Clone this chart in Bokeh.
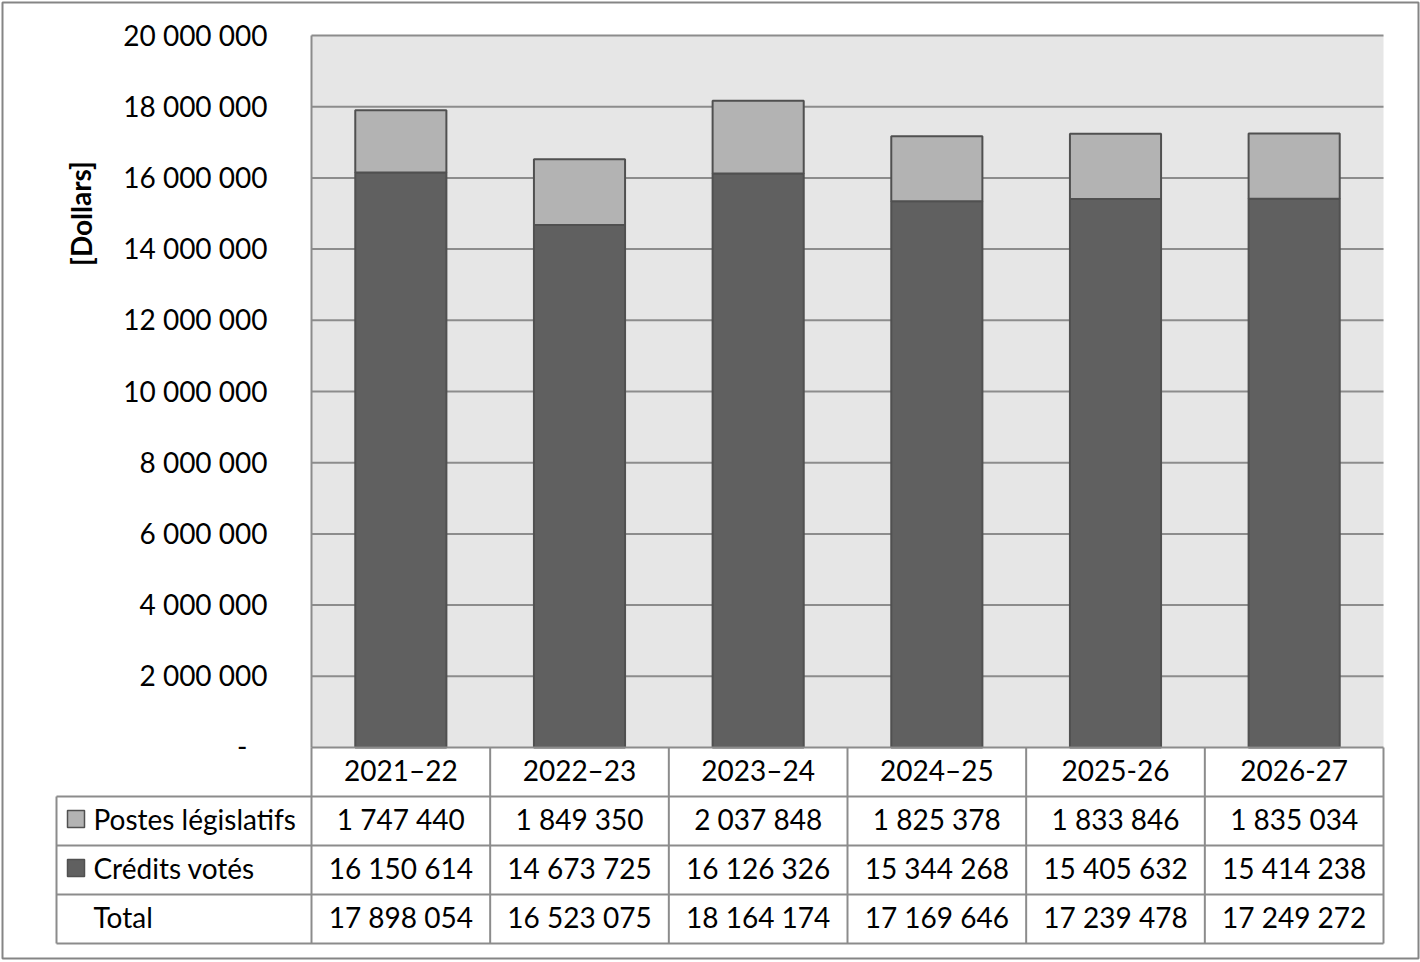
from bokeh.plotting import figure
from bokeh.models import ColumnDataSource, Range1d
from bokeh.core.properties import value
from bokeh.embed import file_html
from bokeh.resources import INLINE

# ---------------- data ----------------
years = ["2021–22", "2022–23", "2023–24", "2024–25", "2025-26", "2026-27"]
postes = [1747440, 1849350, 2037848, 1825378, 1833846, 1835034]
credits = [16150614, 14673725, 16126326, 15344268, 15405632, 15414238]
totals = [17898054, 16523075, 18164174, 17169646, 17239478, 17249272]
y_ticks = [0, 2000000, 4000000, 6000000, 8000000, 10000000,
           12000000, 14000000, 16000000, 18000000, 20000000]
series_names = ["Postes législatifs", "Crédits votés", "Total"]
y_title = "[Dollars]"

# ---------------- layout constants (pixels) ----------------
W, H = 1420, 962
PL, PR = 311, 1383          # plot area left/right
PT, PB = 35, 747            # plot area top/bottom
ROW_H = 49
TABLE_LEFT = 56
LEG_X = 75.5
TEXT_X = 93
FONT = value("Lato")
FS = "28px"
YMAX = 20000000

C_BG = "#e6e6e6"
C_GRID = "#8c8c8c"
C_DARK = "#606060"
C_LIGHT = "#b3b3b3"
C_EDGE = "#505050"
C_LINE = "#8c8c8c"
C_BORDER = "#858585"

n = len(years)
colw = (PR - PL) / n
# extra ranges: category index and dollar values mapped onto the canvas
cat_start = -PL / colw
cat_end = (W - PL) / colw
px_per_val = (PB - PT) / YMAX
val_start = -(H - PB) / px_per_val
val_end = YMAX + PT / px_per_val

p = figure(width=W, height=H, output_backend="svg", toolbar_location=None,
           x_range=Range1d(0, W), y_range=Range1d(H, 0),
           x_axis_location=None, y_axis_location=None,
           min_border=0, outline_line_color=None,
           background_fill_color="white", border_fill_color="white")
p.grid.visible = False
p.extra_x_ranges = {"cat": Range1d(cat_start, cat_end)}
p.extra_y_ranges = {"val": Range1d(val_start, val_end)}

# outer border
p.quad(left=[2], right=[1418], top=[2], bottom=[958], fill_color=None,
       line_color=C_BORDER, line_width=2)

# plot area background
p.quad(left=[0], right=[n], bottom=[0], top=[YMAX], fill_color=C_BG,
       line_color=None, x_range_name="cat", y_range_name="val")

# gridlines
grid_vals = [t for t in y_ticks if t > 0]
p.segment(x0=[0] * len(grid_vals), x1=[n] * len(grid_vals), y0=grid_vals, y1=grid_vals,
          line_color=C_GRID, line_width=2, x_range_name="cat", y_range_name="val")
# left axis line of plot area
p.segment(x0=[0], x1=[0], y0=[0], y1=[YMAX], line_color=C_GRID, line_width=2,
          x_range_name="cat", y_range_name="val")

# bars
xs = [i + 0.5 for i in range(n)]
stack_top = [c + s for c, s in zip(credits, postes)]
src = ColumnDataSource(dict(x=xs, credits=credits, top=stack_top))
p.vbar(x="x", width=0.51, bottom=0, top="credits", source=src,
       fill_color=C_DARK, line_color=C_EDGE, line_width=2,
       x_range_name="cat", y_range_name="val")
p.vbar(x="x", width=0.51, bottom="credits", top="top", source=src,
       fill_color=C_LIGHT, line_color=C_EDGE, line_width=2,
       x_range_name="cat", y_range_name="val")

# y tick labels
def fmt(v):
    return "-" if v == 0 else f"{v:,}".replace(",", " ")

tick_src = ColumnDataSource(dict(x=[267] * len(y_ticks), y=y_ticks,
                                 t=[fmt(v) for v in y_ticks],
                                 xo=[-20 if v == 0 else 0 for v in y_ticks]))
p.text(x="x", y="y", text="t", x_offset="xo", y_offset=-1, source=tick_src, y_range_name="val",
       text_font=FONT, text_font_size=FS, text_align="right",
       text_baseline="middle", text_color="black")

# y axis title
p.text(x=[80], y=[213], text=[y_title], angle=1.5708, text_font=FONT,
       text_font_size=FS, text_font_style="bold", text_align="center",
       text_baseline="middle", text_color="black")

# ---------------- data table ----------------
row_tops = [PB + k * ROW_H for k in range(5)]  # 747, 796, 845, 894, 943
# horizontal lines
p.segment(x0=[PL], x1=[PR], y0=[row_tops[0]], y1=[row_tops[0]], line_color=C_LINE, line_width=2)
p.segment(x0=[TABLE_LEFT] * 4, x1=[PR] * 4, y0=row_tops[1:], y1=row_tops[1:],
          line_color=C_LINE, line_width=2)
# vertical lines for category columns
p.segment(x0=list(range(n + 1)), x1=list(range(n + 1)),
          y0=[row_tops[0]] * (n + 1), y1=[row_tops[4]] * (n + 1),
          line_color=C_LINE, line_width=2, x_range_name="cat")
# left border of legend column
p.segment(x0=[TABLE_LEFT], x1=[TABLE_LEFT], y0=[row_tops[1]], y1=[row_tops[4]],
          line_color=C_LINE, line_width=2)

row_mid = [t + ROW_H / 2 - 2 for t in row_tops[:4]]

# header (years)
p.text(x=xs, y=[row_mid[0]] * n, text=years, x_range_name="cat",
       text_font=FONT, text_font_size=FS, text_align="center",
       text_baseline="middle", text_color="black")

def num(v):
    return f"{v:,}".replace(",", " ")

for r, vals in enumerate([postes, credits, totals]):
    p.text(x=xs, y=[row_mid[r + 1]] * n, text=[num(v) for v in vals], x_range_name="cat",
           text_font=FONT, text_font_size=FS, text_align="center",
           text_baseline="middle", text_color="black")

# legend labels and keys
p.text(x=[TEXT_X] * 3, y=row_mid[1:], text=series_names, text_font=FONT,
       text_font_size=FS, text_align="left", text_baseline="middle", text_color="black")
p.rect(x=[LEG_X, LEG_X], y=[row_mid[1], row_mid[2]], width=17, height=17,
       fill_color=[C_LIGHT, C_DARK], line_color=C_EDGE, line_width=1.5)

open("out.html", "w").write(file_html(p, INLINE))
